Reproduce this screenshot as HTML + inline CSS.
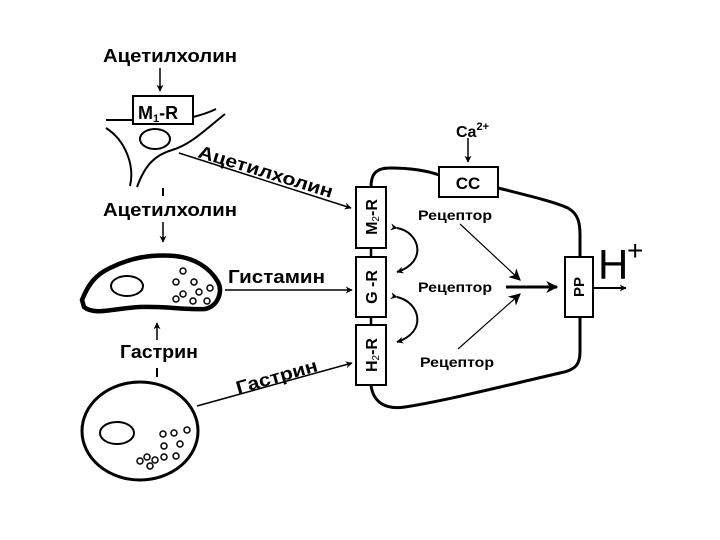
<!DOCTYPE html>
<html><head><meta charset="utf-8"><style>
html,body{margin:0;padding:0;background:#fff;}
svg{display:block;}
text{font-family:"Liberation Sans",sans-serif;font-weight:bold;fill:#000;}
</style></head><body>
<svg width="720" height="540" viewBox="0 0 720 540" xmlns="http://www.w3.org/2000/svg">
<defs>
<marker id="a" viewBox="0 0 10 10" refX="9" refY="5" markerWidth="7" markerHeight="7" orient="auto" markerUnits="userSpaceOnUse"><path d="M0,0 L10,5 L0,10 L3,5 z" fill="#000"/></marker>
<marker id="b" viewBox="0 0 10 10" refX="9" refY="5" markerWidth="12" markerHeight="12" orient="auto" markerUnits="userSpaceOnUse"><path d="M0,0 L10,5 L0,10 L3,5 z" fill="#000"/></marker>
</defs>
<g fill="none" stroke="#000">
<line x1="160" y1="68" x2="160" y2="91" stroke-width="1.5" marker-end="url(#a)"/>
<rect x="133" y="96" width="60" height="28" stroke-width="2"/>
<path d="M106,120 L133,120" stroke-width="2"/>
<path d="M193,117 C205,114 210,112 216,109" stroke-width="2"/>
<path d="M106,128 C125,140 135,165 130,186" stroke-width="2"/>
<path d="M137,187 C145,165 155,155 172,150 C190,145 205,130 225,114" stroke-width="2"/>
<ellipse cx="155" cy="139" rx="15" ry="10" stroke-width="2"/>
<line x1="179" y1="153" x2="351" y2="208" stroke-width="1.5" marker-end="url(#a)"/>
<line x1="163" y1="188" x2="163" y2="196" stroke-width="2"/>
<line x1="163" y1="222" x2="163" y2="242" stroke-width="1.5" marker-end="url(#a)"/>
<path d="M82,300 C88,285 95,275 110,268 C130,258 150,254 175,256 C195,258 210,268 218,282 C223,292 218,306 205,309 C185,310 165,306 140,307 C115,308 95,316 84,307 Z" stroke-width="4.5"/>
<ellipse cx="127" cy="286" rx="16" ry="10" stroke-width="2"/>
<g stroke-width="1.5">
<circle cx="183" cy="271" r="3"/><circle cx="176" cy="282" r="3"/><circle cx="194" cy="282" r="3"/><circle cx="183" cy="294" r="3"/><circle cx="199" cy="292" r="3"/><circle cx="210" cy="288" r="3"/><circle cx="193" cy="301" r="3"/><circle cx="207" cy="301" r="3"/><circle cx="176" cy="299" r="3"/>
</g>
<line x1="225" y1="290" x2="352" y2="290" stroke-width="1.5" marker-end="url(#a)"/>
<line x1="157" y1="340" x2="157" y2="323" stroke-width="1.5" marker-end="url(#a)"/>
<line x1="157" y1="368" x2="157" y2="377" stroke-width="2"/>
<ellipse cx="140" cy="431" rx="58" ry="49" stroke-width="3"/>
<ellipse cx="117" cy="433" rx="17" ry="11" stroke-width="2"/>
<g stroke-width="1.5">
<circle cx="163" cy="434" r="3"/><circle cx="174" cy="433" r="3"/><circle cx="187" cy="430" r="3"/><circle cx="164" cy="446" r="3"/><circle cx="180" cy="444" r="3"/><circle cx="164" cy="457" r="3"/><circle cx="176" cy="456" r="3"/><circle cx="155" cy="460" r="3"/><circle cx="140" cy="461" r="3"/><circle cx="150" cy="466" r="3"/><circle cx="147" cy="457" r="3"/>
</g>
<line x1="197" y1="406" x2="352" y2="363" stroke-width="1.5" marker-end="url(#a)"/>
<path d="M371,187 C371,175 375,168 390,168 C410,168 425,170 439,175" stroke-width="3"/>
<path d="M498,188 C530,196 555,202 568,208 C578,214 580,222 580,235 L580,257" stroke-width="3"/>
<path d="M580,317 L580,352 C580,365 575,370 560,373 C520,382 450,400 405,407 C385,410 373,402 371,385" stroke-width="3"/>
<rect x="356" y="187" width="30" height="61" stroke-width="2"/>
<rect x="356" y="257" width="30" height="60" stroke-width="2"/>
<rect x="356" y="325" width="30" height="60" stroke-width="2"/>
<line x1="371" y1="248" x2="371" y2="257" stroke-width="2.5"/>
<line x1="371" y1="317" x2="371" y2="325" stroke-width="2.5"/>
<rect x="439" y="167" width="59" height="30" stroke-width="2"/>
<rect x="565" y="257" width="28" height="60" stroke-width="2"/>
<line x1="468" y1="138" x2="468" y2="162" stroke-width="1.5" marker-end="url(#a)"/>
<path d="M397,228 C420,232 428,262 397,272" stroke-width="2" marker-start="url(#a)" marker-end="url(#a)"/>
<path d="M397,297 C420,302 428,332 397,342" stroke-width="2" marker-start="url(#a)" marker-end="url(#a)"/>
<line x1="506" y1="287" x2="557" y2="287" stroke-width="3" marker-end="url(#b)"/>
<line x1="460" y1="224" x2="520" y2="280" stroke-width="1.2" marker-end="url(#b)"/>
<line x1="458" y1="349" x2="520" y2="294" stroke-width="1.2" marker-end="url(#b)"/>
<line x1="594" y1="288" x2="626" y2="288" stroke-width="2" marker-end="url(#a)"/>
</g>
<text x="103" y="62" font-size="18" textLength="134" lengthAdjust="spacingAndGlyphs">Ацетилхолин</text>
<text x="138" y="119" font-size="18">M<tspan font-size="11" dy="3">1</tspan><tspan dy="-3">-R</tspan></text>
<text x="197" y="157" font-size="18" transform="rotate(17 197 157)" textLength="140" lengthAdjust="spacingAndGlyphs">Ацетилхолин</text>
<text x="103" y="216" font-size="18" textLength="134" lengthAdjust="spacingAndGlyphs">Ацетилхолин</text>
<text x="228" y="283" font-size="18" textLength="97" lengthAdjust="spacingAndGlyphs">Гистамин</text>
<text x="120" y="358" font-size="18" textLength="78" lengthAdjust="spacingAndGlyphs">Гастрин</text>
<text x="238" y="394" font-size="18" transform="rotate(-16 238 394)" textLength="84" lengthAdjust="spacingAndGlyphs">Гастрин</text>
<text x="456" y="137" font-size="16">Ca<tspan font-size="11" dy="-7">2+</tspan></text>
<text x="468" y="189" font-size="17" text-anchor="middle">CC</text>
<text font-size="16" transform="translate(377 217) rotate(-90)" text-anchor="middle">M<tspan font-size="10" dy="2" style="font-weight:normal">2</tspan><tspan dy="-2">-R</tspan></text>
<text font-size="16" transform="translate(377 287) rotate(-90)" text-anchor="middle">G -R</text>
<text font-size="16" transform="translate(377 355) rotate(-90)" text-anchor="middle">H<tspan font-size="10" dy="2" style="font-weight:normal">2</tspan><tspan dy="-2">-R</tspan></text>
<text font-size="15" transform="translate(584 287) rotate(-90)" text-anchor="middle">PP</text>
<text x="418" y="220" font-size="14" textLength="74" lengthAdjust="spacingAndGlyphs">Рецептор</text>
<text x="418" y="292" font-size="14" textLength="74" lengthAdjust="spacingAndGlyphs">Рецептор</text>
<text x="420" y="367" font-size="14" textLength="74" lengthAdjust="spacingAndGlyphs">Рецептор</text>
<text x="598" y="279" font-size="42" style="font-weight:normal">H</text>
<text x="627" y="260" font-size="28" style="font-weight:normal">+</text>
</svg>
</body></html>
